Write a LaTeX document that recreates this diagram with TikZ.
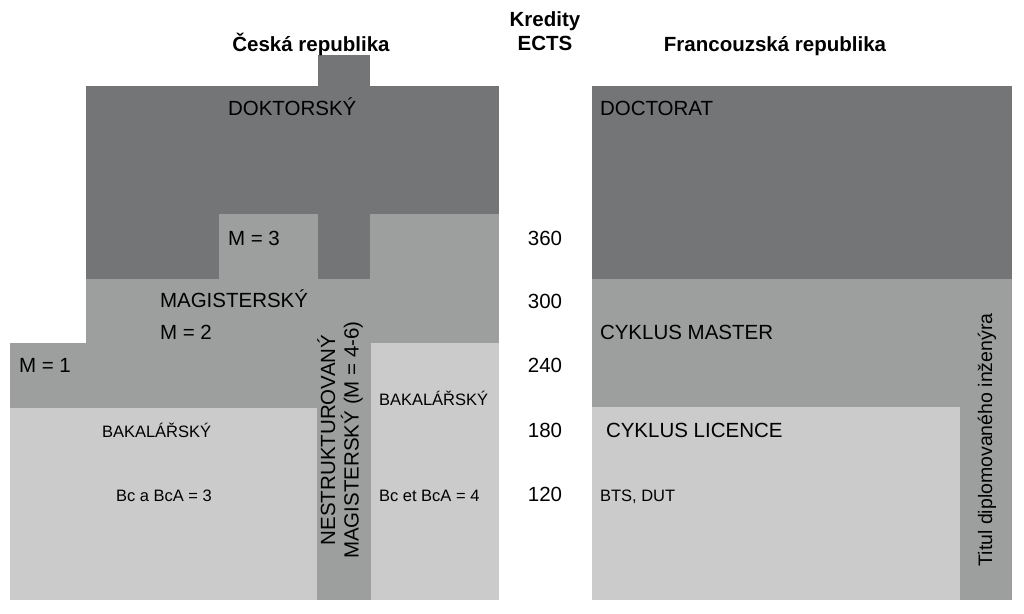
\documentclass[tikz,border=0pt]{standalone}
\usepackage{fontspec}
\setmainfont{Liberation Sans}
\usepackage{xcolor}
\usepackage{tikz}
\usetikzlibrary{positioning}
\definecolor{doctgrey}{RGB}{115,117,118}
\definecolor{mastgrey}{RGB}{157,158,158}
\definecolor{bachgrey}{RGB}{203,203,203}
\tikzset{
  label/.style={inner sep=0pt, outer sep=0pt, anchor=base west},
  big/.style={label, font=\fontsize{20.5}{23.5}\selectfont},
  small/.style={label, font=\fontsize{16.5}{19}\selectfont},
  heading/.style={inner sep=0pt, anchor=base, font=\fontsize{20.5}{23.5}\selectfont\bfseries},
  credit/.style={inner sep=0pt, anchor=base, font=\fontsize{20.5}{23.5}\selectfont}
}

\begin{document}
\begin{tikzpicture}[
    x=1pt, y=-1pt,
    column/.style={inner sep=0pt, rotate=90, align=center, font=\fontsize{20.5}{23.5}\selectfont}
]
\useasboundingbox (0,0) rectangle (1024,613);

% Ceska republika
\fill[doctgrey] (86,86) rectangle (499,279);
\fill[doctgrey] (318,55) rectangle (370,86);
\fill[mastgrey] (219,214) rectangle (318,279);
\fill[mastgrey] (370,214) rectangle (499,279);
\fill[mastgrey] (86,279) rectangle (499,408);
\fill[mastgrey] (10,343) rectangle (86,408);
\fill[mastgrey] (317,279) rectangle (371,600);
\fill[bachgrey] (10,408) rectangle (317,600);
\fill[bachgrey] (371,343) rectangle (499,600);

% Francouzska republika
\fill[doctgrey] (592,86) rectangle (1012,279);
\fill[mastgrey] (592,279) rectangle (1012,600);
\fill[bachgrey] (592,407) rectangle (960,600);

\node (cz)    [heading] at (311,51) {Česká republika};
\node (fr)    [heading] at (775,51) {Francouzská republika};
\node (kred)  [heading] at (545,27) {Kredity};
\node (ects)  [heading] at (545,50) {ECTS};

\node (dokt)  [big] at (228,115) {DOKTORSKÝ};
\node (mthree)[big] at (228,245) {M = 3};
\node (magi)  [big] at (160,307) {MAGISTERSKÝ};
\node (mtwo)  [big] at (160,339) {M = 2};
\node (mone)  [big] at (19,372) {M = 1};
\node (bakl)  [small] at (102,437) {BAKALÁŘSKÝ};
\node (bcl)   [small] at (116,501) {Bc a BcA = 3};
\node (bakr)  [small] at (379,405) {BAKALÁŘSKÝ};
\node (bcr)   [small] at (379,501) {Bc et BcA = 4};

\node (nestr) [column] at (340,440) {NESTRUKTUROVANÝ\\MAGISTERSKÝ (M = 4-6)};

\foreach \val/\yy in {360/245, 300/308, 240/372, 180/437, 120/501}{
  \node (c\val) [credit] at (545,\yy) {\val};
}

\node (doct)  [big] at (600,115) {DOCTORAT};
\node (mast)  [big] at (600,339) {CYKLUS MASTER};
\node (lic)   [big] at (606,437) {CYKLUS LICENCE};
\node (bts)   [small] at (600,501) {BTS, DUT};

\node (titul) [inner sep=0pt, rotate=90, font=\fontsize{19.5}{22}\selectfont] at (987,440) {Titul diplomovaného inženýra};

\end{tikzpicture}
\end{document}
